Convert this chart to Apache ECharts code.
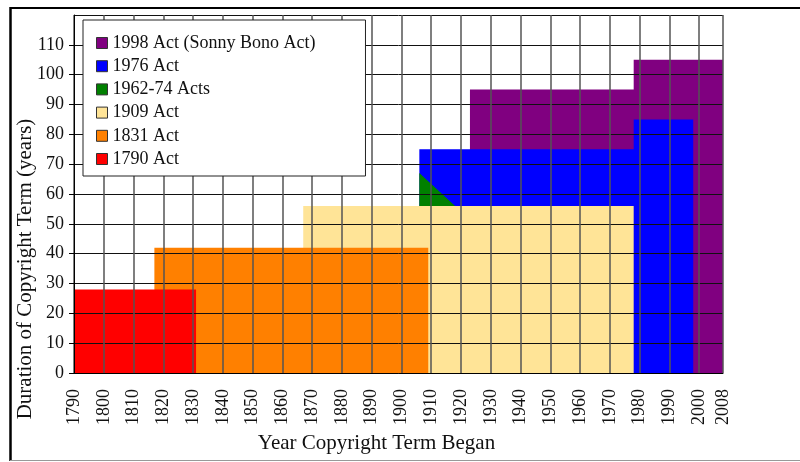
<!DOCTYPE html>
<html>
<head>
<meta charset="utf-8">
<script src="https://cdn.jsdelivr.net/npm/echarts@6/dist/echarts.min.js"></script>
<style>
  html, body { margin: 0; padding: 0; background: #fff; }
  #chart { width: 800px; height: 462px; }
</style>
</head>
<body>
<div id="chart"></div>
<script>
// each act: [year term began, duration in years] corners of the step outline
const act1998 = [[1923, 95], [1978, 95], [1978, 105], [2008, 105]]
const act1976 = [[1906, 75], [1978, 75], [1978, 85], [1998, 85]]
const acts1962 = [[1906, 67], [1918, 56]]
const act1909 = [[1867, 56], [1978, 56]]
const act1831 = [[1817, 42], [1909, 42]]
const act1790 = [[1790, 28], [1831, 28]]

const actNames = ['1998 Act (Sonny Bono Act)', '1976 Act', '1962-74 Acts', '1909 Act', '1831 Act', '1790 Act']
const actData = [act1998, act1976, acts1962, act1909, act1831, act1790]
const actColors = ['#800080', '#0000ff', '#008000', '#ffe497', '#ff8000', '#ff0000']

const yearMin = 1790
const yearMax = 2008
const termMax = 120

const serif = 'Liberation Serif'

const chart = echarts.init(document.getElementById('chart'))

chart.setOption({
  animation: false,
  grid: { left: 74, right: 77, top: 15, bottom: 89, containLabel: false, outerBoundsMode: 'none' },
  legend: {
    data: actNames,
    orient: 'vertical',
    left: 83,
    top: 20,
    z: 10,
    padding: [14, 50, 8, 13],
    itemGap: 5.2,
    itemWidth: 11,
    itemHeight: 11,
    icon: 'rect',
    backgroundColor: '#fff',
    borderColor: '#222',
    borderWidth: 1,
    itemStyle: { borderColor: '#333', borderWidth: 1 },
    textStyle: { fontFamily: serif, fontSize: 18, color: '#111' }
  },
  xAxis: {
    type: 'value',
    min: yearMin,
    max: yearMax,
    interval: 10,
    z: 5,
    name: 'Year Copyright Term Began',
    nameLocation: 'middle',
    nameGap: 60,
    nameMoveOverlap: false,
    nameTextStyle: { fontFamily: serif, fontSize: 21, color: '#111', padding: [0, 44, 0, 0] },
    axisLine: { show: true, onZero: false, lineStyle: { color: '#000', width: 1 } },
    axisTick: { show: false },
    axisLabel: {
      rotate: 90,
      margin: 16,
      showMaxLabel: true,
      showMinLabel: true,
      fontFamily: serif,
      fontSize: 18,
      color: '#111',
      formatter: v => String(v)
    },
    splitLine: { show: true, lineStyle: { color: '#555', width: 1.5 } }
  },
  yAxis: {
    type: 'value',
    min: 0,
    max: termMax,
    interval: 10,
    z: 5,
    name: 'Duration of Copyright Term (years)',
    nameLocation: 'middle',
    nameGap: 38,
    nameRotate: 90,
    nameMoveOverlap: false,
    nameTextStyle: { fontFamily: serif, fontSize: 21, color: '#111', padding: [0, 150, 0, 0] },
    axisLine: { show: true, lineStyle: { color: '#000', width: 1 } },
    axisTick: { show: true, length: 5, lineStyle: { color: '#000' } },
    axisLabel: {
      showMaxLabel: false,
      margin: 10,
      fontFamily: serif,
      fontSize: 18,
      color: '#111'
    },
    splitLine: { show: true, lineStyle: { color: '#111', width: 1 } }
  },
  series: actNames.map((name, i) => ({
    name: name,
    type: 'line',
    data: actData[i],
    symbol: 'none',
    color: actColors[i],
    lineStyle: { width: 0 },
    areaStyle: { color: actColors[i], opacity: 1 }
  })),
  graphic: [
    { type: 'line', shape: { x1: 10, y1: 8, x2: 800, y2: 8 }, style: { stroke: '#000', lineWidth: 2 } },
    { type: 'line', shape: { x1: 10.5, y1: 7, x2: 10.5, y2: 461 }, style: { stroke: '#000', lineWidth: 2.5 } },
    { type: 'line', shape: { x1: 10, y1: 460.5, x2: 800, y2: 460.5 }, style: { stroke: '#999', lineWidth: 1 } }
  ]
})
</script>
</body>
</html>
